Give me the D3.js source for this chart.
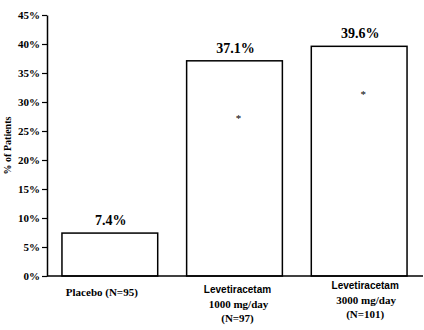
<!DOCTYPE html>
<html><head><meta charset="utf-8">
<script src="https://cdn.jsdelivr.net/npm/d3@7"></script>
<style>body{margin:0;background:#fff}svg{display:block}</style>
</head><body>
<script>
const categories = ["Placebo", "LEV1000", "LEV3000"];
const values = [7.4, 37.1, 39.6];
const valueLabels = ["7.4%", "37.1%", "39.6%"];
const asteriskValues = [null, 27.4, 31.5];
const labelLine1 = ["Placebo (N=95)", "Levetiracetam", "Levetiracetam"];
const labelLine2 = ["", "1000 mg/day", "3000 mg/day"];
const labelLine3 = ["", "(N=97)", "(N=101)"];
const yTicks = [0, 5, 10, 15, 20, 25, 30, 35, 40, 45];
const yTitle = "% of Patients";

const W = 424, H = 330;
const svg = d3.select("body").append("svg").attr("width", W).attr("height", H);
const serif = "'Liberation Serif','Times New Roman',serif";
const sans = "'Liberation Sans',Arial,sans-serif";

const y = d3.scaleLinear().domain([0, 45]).range([276, 15]);
const x = d3.scaleBand().domain(categories).range([47, 422]).paddingInner(0.232).paddingOuter(0.12);

// bars
svg.selectAll("rect.bar").data(values).join("rect")
  .attr("x", (d, i) => x(categories[i]))
  .attr("y", d => y(d))
  .attr("width", x.bandwidth())
  .attr("height", d => y(0) - y(d))
  .attr("fill", "#fff").attr("stroke", "#000").attr("stroke-width", 1.5);

// y axis
const yAxis = d3.axisLeft(y).tickValues(yTicks).tickFormat(d => d + "%").tickSize(5).tickSizeOuter(0);
const gy = svg.append("g").attr("transform", "translate(47,0)").call(yAxis);
gy.select(".domain").attr("stroke", "#000").attr("stroke-width", 1.5);
gy.selectAll(".tick line").attr("stroke", "#000").attr("stroke-width", 1.2);
gy.selectAll(".tick text").attr("x", -7).attr("font-family", serif).attr("font-weight", "bold")
  .attr("font-size", "11px").attr("fill", "#000");

// x axis line
svg.append("line").attr("x1", 47).attr("x2", 423).attr("y1", y(0)).attr("y2", y(0))
  .attr("stroke", "#000").attr("stroke-width", 1.5);

// y title
svg.append("text").attr("transform", `translate(11,${(y(0)+y(45))/2}) rotate(-90)`)
  .attr("text-anchor", "middle").attr("font-family", serif).attr("font-weight", "bold")
  .attr("font-size", "10px").text(yTitle);

// value labels
svg.selectAll("text.val").data(values).join("text")
  .attr("x", (d, i) => x(categories[i]) + x.bandwidth() / 2 + 1)
  .attr("y", d => y(d) - 8)
  .attr("text-anchor", "middle").attr("font-family", serif).attr("font-weight", "bold")
  .attr("font-size", "14px").text((d, i) => valueLabels[i]);

// asterisks
svg.selectAll("text.ast").data(asteriskValues.map((v, i) => ({v, i})).filter(d => d.v != null)).join("text")
  .attr("x", d => x(categories[d.i]) + x.bandwidth() / 2 + 4)
  .attr("y", d => y(d.v) + 5)
  .attr("text-anchor", "middle").attr("font-family", serif).attr("font-size", "11px").text("*");

// category labels
const lblOff = [-8, 3, 6];
const lblY = [296, 293, 289];
categories.forEach((c, i) => {
  const cx = x(c) + x.bandwidth() / 2 + lblOff[i];
  svg.append("text").attr("x", cx).attr("y", lblY[i]).attr("text-anchor", "middle")
    .attr("font-family", i === 0 ? serif : sans).attr("font-weight", "bold")
    .attr("font-size", i === 0 ? "11px" : "10px").text(labelLine1[i]);
  if (labelLine2[i]) svg.append("text").attr("x", cx + 1).attr("y", lblY[i] + 15).attr("text-anchor", "middle")
    .attr("font-family", serif).attr("font-weight", "bold").attr("font-size", "11px").text(labelLine2[i]);
  if (labelLine3[i]) svg.append("text").attr("x", cx).attr("y", lblY[i] + 29).attr("text-anchor", "middle")
    .attr("font-family", serif).attr("font-weight", "bold").attr("font-size", "11px").text(labelLine3[i]);
});
</script>
</body></html>
